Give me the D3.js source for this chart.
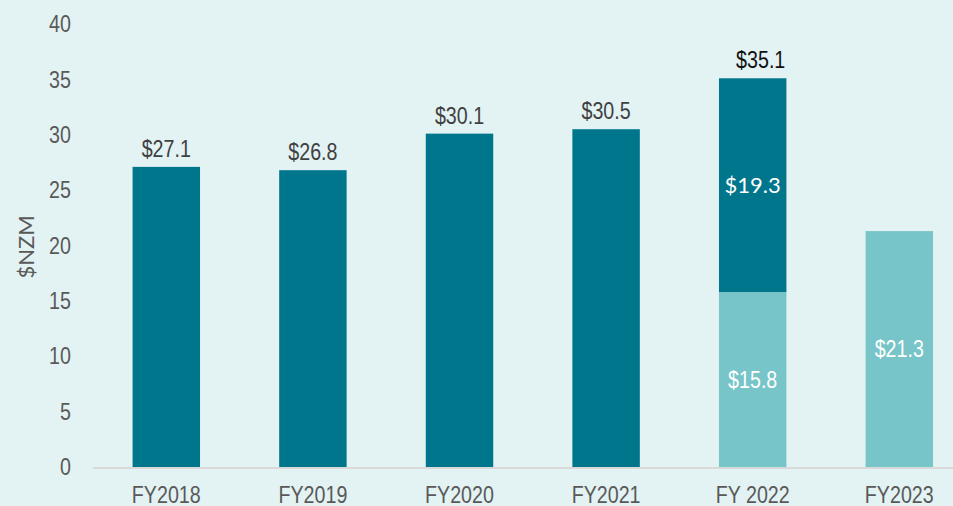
<!DOCTYPE html>
<html>
<head>
<meta charset="utf-8">
<script src="https://cdn.jsdelivr.net/npm/d3@7"></script>
<style>
  html, body { margin: 0; padding: 0; background: #e3f2f3; overflow: hidden; }
  .narrow { font-family: "Liberation Sans Narrow", "Liberation Sans", Arial, sans-serif; }
</style>
</head>
<body>
<div class="container"></div>
<script>
const years = ['FY2018', 'FY2019', 'FY2020', 'FY2021', 'FY 2022', 'FY2023'];
const lightVals = [0, 0, 0, 0, 15.8, 21.3];
const darkVals = [27.1, 26.8, 30.1, 30.5, 19.3, 0];
const totalLabels = ['$27.1', '$26.8', '$30.1', '$30.5', '$35.1', ''];
const yTicks = [0, 5, 10, 15, 20, 25, 30, 35, 40];

const width = 953, height = 506;
const margin = {top: 24, left: 93, bottom: 39};
const squeeze = 'scale(0.82,1)'; // fake Arial Narrow

const svg = d3.select('.container')
    .append('svg')
    .attr('width', width)
    .attr('height', height);

svg.append('rect').attr('width', width).attr('height', height).attr('fill', '#e3f2f3');

const x = d3.scaleBand().domain(years).range([margin.left, margin.left + 6 * 146.6]).paddingInner(0.54).paddingOuter(0.27);
const y = d3.scaleLinear().domain([0, 40]).range([height - margin.bottom, margin.top]);

// y axis labels
const yAxis = d3.axisLeft(y).tickValues(yTicks).tickSize(0).tickPadding(0);
const gy = svg.append('g').attr('transform', 'translate(71,0)').call(yAxis);
gy.select('.domain').remove();
gy.selectAll('text')
    .attr('class', 'narrow')
    .attr('transform', squeeze)
    .attr('fill', '#595959')
    .style('font-size', '24px');

svg.append('text')
    .attr('transform', 'translate(34,' + 247 + ') rotate(-90)')
    .attr('text-anchor', 'middle')
    .style('font-family', 'Lato, sans-serif')
    .style('font-size', '22px')
    .attr('fill', '#595959')
    .text('$NZM');

// stacked bars
const rows = years.map((d, i) => ({year: d, light: lightVals[i], dark: darkVals[i]}));
const stacked = d3.stack().keys(['light', 'dark'])(rows);
const color = {light: '#77c5c8', dark: '#00768c'};

stacked.forEach(layer => {
    svg.append('g').selectAll('rect')
        .data(layer.filter(d => d[1] > d[0]))
        .enter().append('rect')
        .attr('x', d => x(d.data.year))
        .attr('y', d => y(d[1]))
        .attr('width', x.bandwidth())
        .attr('height', d => y(d[0]) - y(d[1]))
        .attr('fill', color[layer.key]);
});

// baseline
svg.append('line')
    .attr('x1', margin.left).attr('x2', width)
    .attr('y1', y(0) + 1).attr('y2', y(0) + 1)
    .attr('stroke', '#d9d9d9').attr('stroke-width', 2);

// x axis labels
const xAxis = d3.axisBottom(x).tickSize(0).tickPadding(0);
const gx = svg.append('g').attr('transform', 'translate(0,' + (y(0) + 36) + ')').call(xAxis);
gx.select('.domain').remove();
gx.selectAll('text')
    .attr('class', 'narrow')
    .attr('dy', 0)
    .attr('transform', squeeze)
    .attr('fill', '#595959')
    .style('font-size', '24px');

// total labels above bars
svg.append('g').selectAll('text')
    .data(rows)
    .enter().append('text')
    .attr('class', 'narrow')
    .attr('transform', (d, i) => 'translate(' + (x(d.year) + x.bandwidth() / 2 + (i === 4 ? 8 : 0)) + ',' + (y(d.light + d.dark) - 10) + ') ' + squeeze)
    .attr('text-anchor', 'middle')
    .attr('fill', (d, i) => i === 4 ? '#111' : '#404040')
    .style('font-size', '24px')
    .text((d, i) => totalLabels[i]);

// segment labels inside bars
const inner = [];
rows.forEach(d => {
    if (d.light && d.dark) {
        inner.push({year: d.year, lo: 0, hi: d.light, v: d.light, font: 'narrow'});
        inner.push({year: d.year, lo: d.light, hi: d.light + d.dark, v: d.dark, font: 'lato'});
    } else if (d.light) {
        inner.push({year: d.year, lo: 0, hi: d.light, v: d.light, font: 'narrow'});
    }
});
svg.append('g').selectAll('text')
    .data(inner)
    .enter().append('text')
    .attr('class', d => d.font === 'narrow' ? 'narrow' : null)
    .style('font-family', d => d.font === 'lato' ? 'Lato, sans-serif' : null)
    .attr('transform', d => 'translate(' + (x(d.year) + x.bandwidth() / 2) + ',' + ((y(d.lo) + y(d.hi)) / 2) + ')' + (d.font === 'narrow' ? ' ' + squeeze : ''))
    .attr('dy', '0.35em')
    .attr('text-anchor', 'middle')
    .attr('fill', '#fff')
    .style('font-size', d => d.font === 'narrow' ? '24px' : '22px')
    .text(d => '$' + d.v.toFixed(1));
</script>
</body>
</html>
